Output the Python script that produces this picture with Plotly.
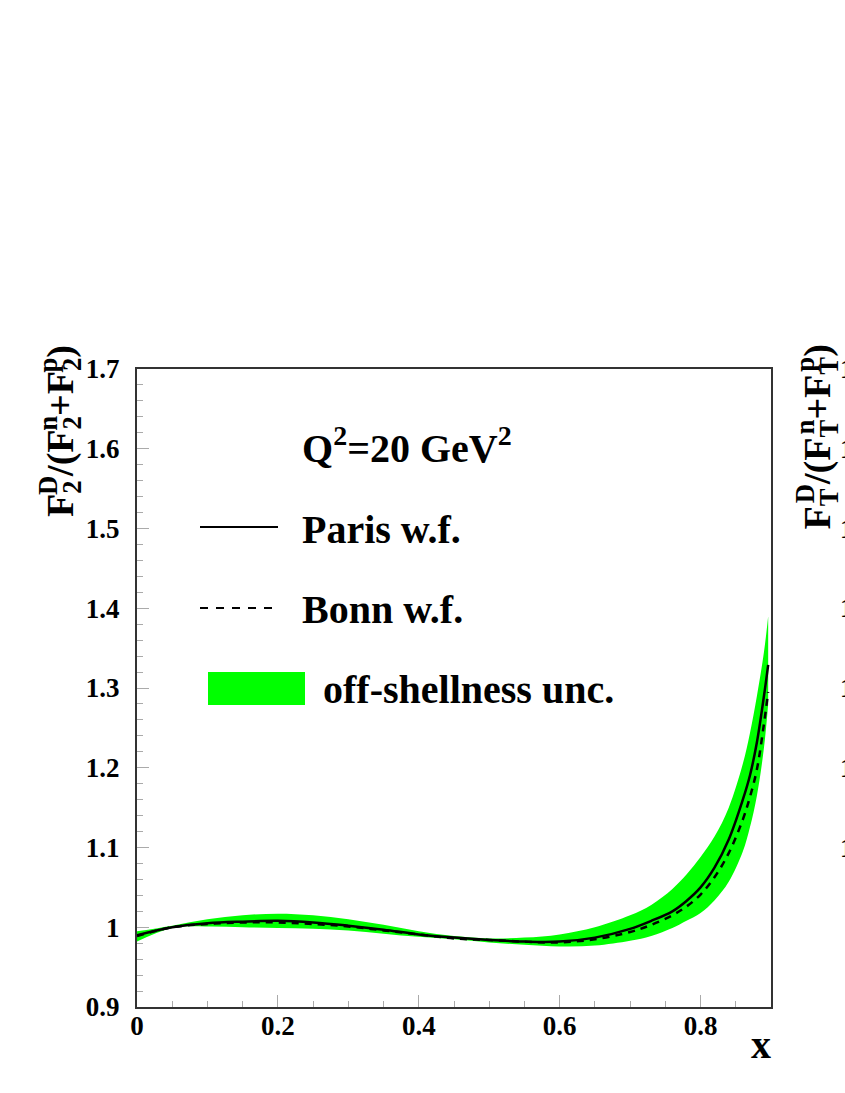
import plotly.graph_objects as go

# x grid and curves
x_vals = [0.0, 0.05, 0.1, 0.15, 0.2, 0.25, 0.3, 0.35, 0.4, 0.45, 0.5, 0.55, 0.6,
          0.65, 0.7, 0.73, 0.76, 0.78, 0.8, 0.82, 0.84, 0.86, 0.87, 0.88, 0.89, 0.896]
paris = [0.990, 1.000, 1.005, 1.007, 1.008, 1.006, 1.002, 0.997, 0.991, 0.987, 0.984,
         0.982, 0.982, 0.987, 0.998, 1.008, 1.020, 1.033, 1.050, 1.075, 1.110, 1.160,
         1.190, 1.232, 1.290, 1.329]
bonn = [0.989, 1.000, 1.004, 1.006, 1.006, 1.004, 1.001, 0.996, 0.991, 0.986, 0.984,
        0.982, 0.981, 0.985, 0.994, 1.003, 1.015, 1.026, 1.041, 1.063, 1.093, 1.135,
        1.163, 1.198, 1.255, 1.295]
band_lo = [0.982, 0.999, 1.001, 1.000, 0.999, 0.998, 0.996, 0.992, 0.988, 0.985, 0.981,
           0.978, 0.976, 0.977, 0.983, 0.989, 0.999, 1.008, 1.018, 1.034, 1.057, 1.095,
           1.125, 1.165, 1.225, 1.280]
band_hi = [0.995, 1.002, 1.010, 1.015, 1.017, 1.015, 1.010, 1.003, 0.995, 0.989, 0.986,
           0.987, 0.991, 1.000, 1.015, 1.028, 1.048, 1.066, 1.088, 1.114, 1.150, 1.205,
           1.243, 1.290, 1.345, 1.390]

# tick labels of the neighbouring (cut off) panel
right_ticks = [1.1, 1.2, 1.3, 1.4, 1.5, 1.6, 1.7]

GREEN = "#00ff00"
FONT = "Liberation Serif, Times New Roman, Times, DejaVu Serif, serif"
W, H = 845, 1093
L, R, T, B = 137, 74, 369, 86


def px(xp):
    return (xp - L) / (W - L - R)


def py(yp):
    return (H - B - yp) / (H - T - B)


def stacked(sub, sup):
    # sub- and superscript on top of each other, like ROOT's #lower/#upper
    return (f"<sub><span style='letter-spacing:-0.55em'>{sub}</span></sub>"
            f"<sup>{sup}</sup>")


fig = go.Figure()

fig.add_trace(go.Scatter(x=x_vals, y=band_lo, mode="lines", line_shape="spline",
                         line=dict(width=0), showlegend=False, hoverinfo="skip"))
fig.add_trace(go.Scatter(x=x_vals, y=band_hi, mode="lines", line_shape="spline",
                         line=dict(width=0), fill="tonexty", fillcolor=GREEN,
                         showlegend=False, hoverinfo="skip"))
fig.add_trace(go.Scatter(x=x_vals, y=paris, mode="lines", line_shape="spline",
                         line=dict(color="black", width=2.5), name="Paris w.f.",
                         showlegend=False))
fig.add_trace(go.Scatter(x=x_vals, y=bonn, mode="lines", line_shape="spline",
                         line=dict(color="black", width=2.5, dash="7px,6px"),
                         name="Bonn w.f.", showlegend=False))

# hand-made legend, ROOT style
fig.add_shape(type="line", xref="paper", yref="paper", x0=px(200), x1=px(278),
              y0=py(527), y1=py(527), line=dict(color="black", width=2))
fig.add_shape(type="line", xref="paper", yref="paper", x0=px(200), x1=px(278),
              y0=py(608), y1=py(608), line=dict(color="black", width=2, dash="8px,8px"))
fig.add_shape(type="rect", xref="paper", yref="paper", x0=px(208), x1=px(305),
              y0=py(705), y1=py(672), fillcolor=GREEN, line=dict(width=0))

big = dict(family=FONT, size=40, color="black")
texts = [
    ("<b>Q<sup>2</sup>=20 GeV<sup>2</sup></b>", 300, 445),
    ("<b>Paris w.f.</b>", 300, 529),
    ("<b>Bonn w.f.</b>", 300, 609),
    ("<b>off-shellness unc.</b>", 321, 689),
]
for txt, xp, yp in texts:
    fig.add_annotation(text=txt, xref="paper", yref="paper", x=px(xp), y=py(yp),
                       xanchor="left", yanchor="middle", showarrow=False, font=big)

fig.add_annotation(text="<b>x</b>", xref="paper", yref="paper", x=px(773), y=py(1020),
                   xanchor="right", yanchor="top", showarrow=False, font=big)

fig.add_annotation(
    text=f"<b>F{stacked('2', 'D')}/(F{stacked('2', 'n')}+F{stacked('2', 'p')})</b>",
    xref="paper", yref="paper", x=px(58), y=py(343), xanchor="center", yanchor="top",
    textangle=-90, showarrow=False, font=dict(family=FONT, size=38, color="black"))
fig.add_annotation(
    text=f"<b>F{stacked('T', 'D')}/(F{stacked('T', 'n')}+F{stacked('T', 'p')})</b>",
    xref="paper", yref="paper", x=px(818), y=py(343), xanchor="center", yanchor="top",
    textangle=-90, showarrow=False, font=dict(family=FONT, size=38, color="black"))

for v in right_ticks:
    fig.add_annotation(text=f"<b>{v:g}</b>", xref="paper", yref="y", x=px(838), y=v,
                       xanchor="left", yanchor="middle", showarrow=False,
                       font=dict(family=FONT, size=27, color="black"))

axis_common = dict(
    showline=True, linecolor="#333333", linewidth=2, mirror=True,
    ticks="inside", ticklen=12, tickcolor="#aaaaaa", tickwidth=1,
    showgrid=False, zeroline=False,
    tickfont=dict(family=FONT, size=27, color="black"),
)

fig.update_xaxes(range=[0, 0.9], dtick=0.2, tick0=0,
                 minor=dict(dtick=0.05, ticklen=6, ticks="inside", tickcolor="#aaaaaa"),
                 ticklabelstandoff=-6,
                 tickprefix="<b>", ticksuffix="</b>", **axis_common)
fig.update_yaxes(range=[0.9, 1.7], dtick=0.1, tick0=0.9,
                 minor=dict(dtick=0.02, ticklen=6, ticks="inside", tickcolor="#aaaaaa"),
                 ticklabelstandoff=10, tickprefix="<b>", ticksuffix="</b>", **axis_common)

fig.update_layout(
    width=W, height=H, autosize=False,
    margin=dict(l=L, r=R, t=T, b=B),
    paper_bgcolor="white", plot_bgcolor="white",
    font=dict(family=FONT, color="black"),
    showlegend=False,
)

fig.write_html("out.html", config={"displayModeBar": False},
               post_script="document.body.style.margin = '0';")
